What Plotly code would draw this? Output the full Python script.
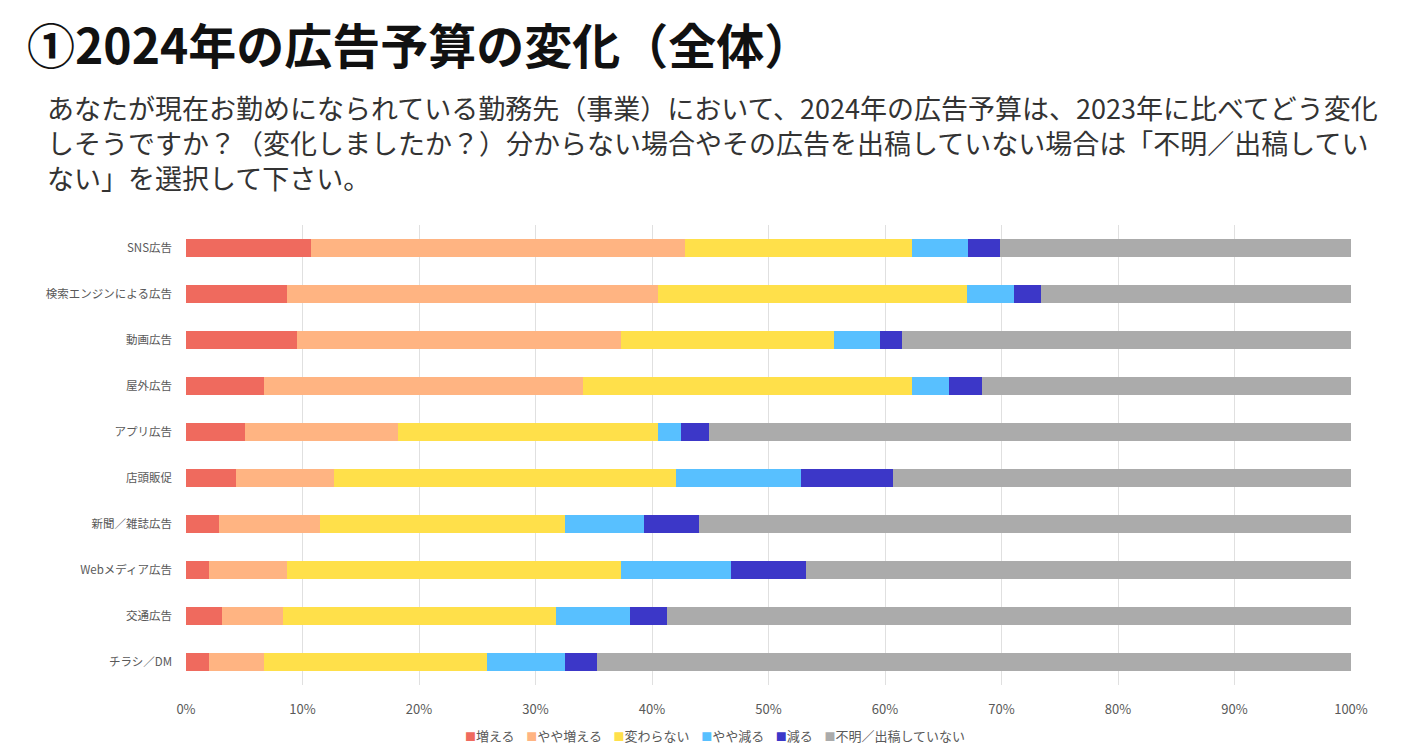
import plotly.graph_objects as go

categories = ["SNS広告", "検索エンジンによる広告", "動画広告", "屋外広告", "アプリ広告",
              "店頭販促", "新聞／雑誌広告", "Webメディア広告", "交通広告", "チラシ／DM"]
series_names = ["増える", "やや増える", "変わらない", "やや減る", "減る", "不明／出稿していない"]
inc = [10.7, 8.7, 9.5, 6.7, 5.1, 4.3, 2.8, 2.0, 3.1, 2.0]
inc_slight = [32.1, 31.8, 27.8, 27.4, 13.1, 8.4, 8.7, 6.7, 5.2, 4.7]
same = [19.5, 26.5, 18.3, 28.2, 22.3, 29.4, 21.0, 28.6, 23.5, 19.1]
dec_slight = [4.8, 4.1, 4.0, 3.2, 2.0, 10.7, 6.8, 9.5, 6.3, 6.7]
dec = [2.8, 2.3, 1.9, 2.8, 2.4, 7.9, 4.7, 6.4, 3.2, 2.8]
unknown = [30.1, 26.6, 38.5, 31.7, 55.1, 39.3, 56.0, 46.8, 58.7, 64.7]
colors = ["#EF6A5E", "#FFB482", "#FFE04A", "#58C0FF", "#3C37C8", "#ABABAB"]
tick_vals = [0, 10, 20, 30, 40, 50, 60, 70, 80, 90, 100]
tick_text = [f"{v}%" for v in tick_vals]

title_text = "①2024年の広告予算の変化（全体）"
sub_lines = [
    "あなたが現在お勤めになられている勤務先（事業）において、2024年の広告予算は、2023年に比べてどう変化",
    "しそうですか？（変化しましたか？）分からない場合やその広告を出稿していない場合は「不明／出稿してい",
    "ない」を選択して下さい。",
]

font_family = "Noto Sans CJK JP"
W, H = 1417, 741
ML, MR, MT, MB = 178, 74, 217, 64
PW, PH = W - ML - MR, H - MT - MB

fig = go.Figure()
for name, vals, col in zip(series_names, [inc, inc_slight, same, dec_slight, dec, unknown], colors):
    fig.add_trace(go.Bar(
        y=categories, x=vals, name=name, orientation="h",
        marker=dict(color=col, line=dict(width=0)), width=0.4,
        hovertemplate="%{y}<br>" + name + ": %{x}%<extra></extra>",
    ))

fig.update_layout(
    barmode="stack",
    width=W, height=H,
    margin=dict(l=ML, r=MR, t=MT, b=MB),
    plot_bgcolor="white", paper_bgcolor="white",
    font=dict(family=font_family, color="#595959", size=13),
    showlegend=False,
    xaxis=dict(range=[0, 100], tickvals=tick_vals, ticktext=tick_text,
               showgrid=True, gridcolor="rgba(0,0,0,0.12)", gridwidth=1,
               zeroline=False, showline=False, layer="above traces",
               tickfont=dict(size=13, color="#595959"), ticks="", ticklabelstandoff=15),
    yaxis=dict(categoryorder="array", categoryarray=categories[::-1],
               autorange=False, range=[-0.5, 9.5],
               showgrid=False, zeroline=False, showline=False,
               tickfont=dict(size=11.5, color="#595959"), ticklabelstandoff=13),
)

fig.add_annotation(text="<b>" + title_text + "</b>", xref="paper", yref="paper",
                   x=(18 - ML) / PW, xanchor="left", y=1 + (MT - 35) / PH, yanchor="middle",
                   showarrow=False, borderpad=0,
                   font=dict(size=48, color="#111111", family=font_family))
fig.add_annotation(text="<br>".join(sub_lines), xref="paper", yref="paper",
                   x=(38 - ML) / PW, xanchor="left", align="left",
                   y=1 + (MT - 134) / PH, yanchor="middle",
                   showarrow=False, borderpad=0,
                   font=dict(size=27, color="#333333", family=font_family))

# compact legend drawn as text
sep = "&nbsp;&nbsp;&nbsp;&nbsp;"
legend_parts = [f"<span style='color:{c};font-size:11px'>■</span>{n}" for n, c in zip(series_names, colors)]
fig.add_annotation(text=sep.join(legend_parts), xref="paper", yref="paper",
                   x=(707 - ML) / PW, xanchor="center", y=-50 / PH, yanchor="middle",
                   showarrow=False, font=dict(size=13, color="#595959", family=font_family))

fig.write_html("out.html")
